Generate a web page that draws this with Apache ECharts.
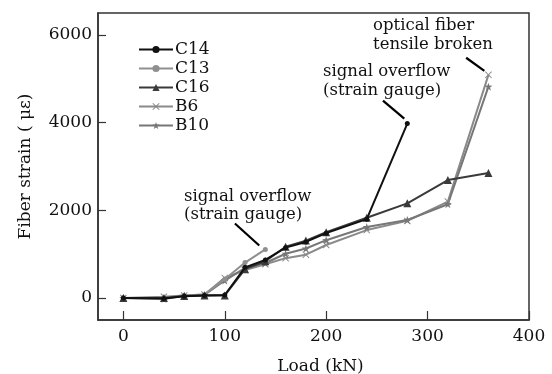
<!DOCTYPE html>
<html>
<head>
<meta charset="utf-8">
<title>Fiber strain vs load</title>
<script src="https://cdn.jsdelivr.net/npm/echarts@6/dist/echarts.min.js"></script>
<style>
  html, body { margin: 0; padding: 0; background: #fff; }
  #main { width: 552px; height: 374px; }
</style>
</head>
<body>
<div id="main"></div>
<script>
// load steps (kN)
var loads = [0, 40, 60, 80, 100, 120, 140, 160, 180, 200, 240, 280, 320, 360];

// fiber strain (με) per sensor
var c14 = [0, -10, 40, 60, 70, 700, 870, 1150, 1280, 1480, 1800, 3980];
var c13 = [0, 10, 60, 80, 430, 810, 1110];
var c16 = [0, 0, 50, 60, 60, 660, 840, 1170, 1310, 1500, 1830, 2160, 2690, 2850];
var b6  = [0, 30, 60, 80, 460, 640, 770, 910, 990, 1210, 1550, 1760, 2200, 5090];
var b10 = [0, -20, 50, 70, 400, 690, 800, 1010, 1130, 1320, 1620, 1780, 2140, 4820];

var xTicks = [0, 100, 200, 300, 400];
var yTicks = [0, 2000, 4000, 6000];

// arrow start / end in data units
var arrows = [
    [[110, 1700], [134, 1200]],
    [[256, 4500], [277, 4090]],
    [[338, 5480], [356, 5180]]
];

function pairs(ys) {
    return ys.map(function (y, i) { return [loads[i], y]; });
}

var serif = 'DejaVu Serif';
var crossPath = 'path://M1,0L5,4L9,0L10,1L6,5L10,9L9,10L5,6L1,10L0,9L4,5L0,1Z';
var starPath = 'path://M5,0L6.2,3.4L10,3.5L7,5.8L8.1,9.5L5,7.3L1.9,9.5L3,5.8L0,3.5L3.8,3.4Z';
var annFont = '16.5px "DejaVu Serif"';

var chart = echarts.init(document.getElementById('main'));

chart.setOption({
    animation: false,
    textStyle: { fontFamily: serif, color: '#111' },
    grid: {
        left: 98, right: 23, top: 13, bottom: 54,
        outerBoundsMode: 'none',
        show: true, borderColor: '#333', borderWidth: 1.5
    },
    legend: {
        orient: 'vertical',
        left: 133, top: 36,
        itemWidth: 34, itemHeight: 9, itemGap: 2,
        textStyle: { fontFamily: serif, fontSize: 17, color: '#111', lineHeight: 17, padding: [0, 0, 0, -3] },
        data: ['C14', 'C13', 'C16', 'B6', 'B10']
    },
    xAxis: {
        type: 'value', min: -25, max: 400,
        name: 'Load (kN)', nameLocation: 'middle', nameGap: 38,
        nameTextStyle: { fontFamily: serif, fontSize: 17, color: '#111', padding: [0, 0, 0, 14] },
        axisLine: { onZero: false, lineStyle: { color: '#333', width: 1.5 } },
        axisTick: { inside: true, length: 9, customValues: xTicks, lineStyle: { color: '#333', width: 1.2 } },
        axisLabel: { customValues: xTicks, formatter: function (v) { return String(v); }, fontFamily: serif, fontSize: 17, color: '#111', margin: 8 },
        splitLine: { show: false }
    },
    yAxis: {
        type: 'value', min: -500, max: 6500,
        name: 'Fiber strain ( με)', nameLocation: 'middle', nameGap: 64,
        nameTextStyle: { fontFamily: serif, fontSize: 17, color: '#111' },
        axisLine: { show: true, onZero: false, lineStyle: { color: '#333', width: 1.5 } },
        axisTick: { show: true, inside: true, length: 8, customValues: yTicks, lineStyle: { color: '#333', width: 1.2 } },
        axisLabel: { customValues: yTicks, formatter: function (v) { return String(v); }, fontFamily: serif, fontSize: 17, color: '#111', margin: 6 },
        splitLine: { show: false }
    },
    graphic: [
        { type: 'text', left: 184, top: 188, style: { text: 'signal overflow\n(strain gauge)', font: annFont, fill: '#111', lineHeight: 18 } },
        { type: 'text', left: 323, top: 62, style: { text: 'signal overflow\n(strain gauge)', font: annFont, fill: '#111', lineHeight: 19 } },
        { type: 'text', left: 373, top: 16, style: { text: 'optical fiber\ntensile broken', font: annFont, fill: '#111', lineHeight: 19 } }
    ],
    series: [
        {
            name: 'C14', type: 'line', data: pairs(c14), z: 5,
            symbol: 'circle', symbolSize: 5,
            itemStyle: { color: '#111' }, lineStyle: { color: '#111', width: 2 },
            markLine: {
                silent: true, symbol: ['none', 'arrow'], symbolSize: [0, 12],
                label: { show: false },
                lineStyle: { color: '#000', width: 2.2, type: 'solid' },
                data: arrows.map(function (a) { return [{ coord: a[0] }, { coord: a[1] }]; })
            }
        },
        {
            name: 'C13', type: 'line', data: pairs(c13), z: 3,
            symbol: 'circle', symbolSize: 5,
            itemStyle: { color: '#8f8f8f' }, lineStyle: { color: '#8f8f8f', width: 2 }
        },
        {
            name: 'C16', type: 'line', data: pairs(c16), z: 4,
            symbol: 'triangle', symbolSize: 8,
            itemStyle: { color: '#3a3a3a' }, lineStyle: { color: '#3a3a3a', width: 2 }
        },
        {
            name: 'B6', type: 'line', data: pairs(b6), z: 2,
            symbol: crossPath, symbolSize: 7,
            itemStyle: { color: '#8a8a8a' }, lineStyle: { color: '#8a8a8a', width: 2 }
        },
        {
            name: 'B10', type: 'line', data: pairs(b10), z: 2,
            symbol: starPath, symbolSize: 8,
            itemStyle: { color: '#777' }, lineStyle: { color: '#777', width: 2 }
        }
    ]
});
</script>
</body>
</html>
